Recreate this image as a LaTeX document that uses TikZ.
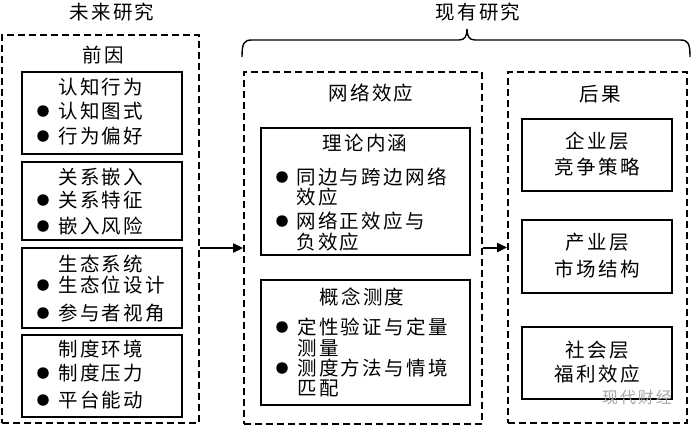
\documentclass[tikz,border=0pt]{standalone}
\usepackage{fontspec}
\newfontfamily\cjk{Noto Sans CJK SC}[LetterSpace=12]
\usetikzlibrary{arrows.meta}
\begin{document}
\begin{tikzpicture}[x=1pt,y=-1pt,
 dbox/.style={draw, line width=1.8pt, dash pattern=on 7pt off 4pt, inner sep=0pt},
 sbox/.style={draw, line width=1.4pt, inner sep=0pt},
 txt/.style={font=\cjk\fontsize{19.5}{21}\selectfont, inner sep=0pt},
 lt/.style={txt, anchor=west},
 bul/.style={circle, fill, inner sep=0pt, minimum size=11.5pt},
 arr/.style={line width=2pt, -{Triangle[length=10pt,width=9pt]}},
 wm/.style={font=\cjk\fontsize{16}{18}\selectfont, text=black!35, inner sep=0pt}]
\useasboundingbox (0,0) rectangle (692,426);

% titles
\node[txt] (tFut) at (112,12) {未来研究};
\node[txt] (tCur) at (478,12) {现有研究};
\draw[line width=1.4pt] (242,57) .. controls (242,43) and (244,40) .. (252,40) -- (459,40)
  .. controls (465,40) and (467,36) .. (467,29) .. controls (467,36) and (469,40) .. (475,40)
  -- (680,40) .. controls (688,40) and (690,43) .. (690,57);

% outer dashed boxes
\node[dbox, minimum width=197pt, minimum height=388pt] (L) at (100.5,229) {};
\node[dbox, minimum width=238pt, minimum height=352pt] (M) at (363,248) {};
\node[dbox, minimum width=179pt, minimum height=351pt] (R) at (597.5,247.5) {};

% left column
\node[txt] (hL) at (103,55) {前因};
\node[sbox, minimum width=160pt, minimum height=82pt] (B1) at (102,113) {};
\node[sbox, minimum width=160pt, minimum height=78pt] (B2) at (102,201) {};
\node[sbox, minimum width=160pt, minimum height=80pt] (B3) at (102,288) {};
\node[sbox, minimum width=160pt, minimum height=82pt] (B4) at (102,376) {};

\node[lt] (b1h) at (58,87) {认知行为};
\node[bul] (b1p1) at (43,111) {}; \node[lt] (b1t1) at (58,111) {认知图式};
\node[bul] (b1p2) at (43,136) {}; \node[lt] (b1t2) at (58,136) {行为偏好};

\node[lt] (b2h) at (58,177) {关系嵌入};
\node[bul] (b2p1) at (43,200) {}; \node[lt] (b2t1) at (58,200) {关系特征};
\node[bul] (b2p2) at (43,226) {}; \node[lt] (b2t2) at (58,226) {嵌入风险};

\node[lt] (b3h) at (58,264) {生态系统};
\node[bul] (b3p1) at (43,285) {}; \node[lt] (b3t1) at (58,285) {生态位设计};
\node[bul] (b3p2) at (43,313) {}; \node[lt] (b3t2) at (58,313) {参与者视角};

\node[lt] (b4h) at (58,349) {制度环境};
\node[bul] (b4p1) at (43,373) {}; \node[lt] (b4t1) at (58,373) {制度压力};
\node[bul] (b4p2) at (43,400) {}; \node[lt] (b4t2) at (58,400) {平台能动};

% middle column
\node[txt] (hM) at (371,93) {网络效应};
\node[sbox, minimum width=209pt, minimum height=127pt] (T1) at (365.5,191.5) {};
\node[sbox, minimum width=209pt, minimum height=125pt] (T2) at (365.5,342.5) {};

\node[txt] (t1h) at (365,143) {理论内涵};
\node[bul] (t1p1) at (282,177) {}; \node[lt] (t1a) at (296,177) {同边与跨边网络};
\node[lt] (t1b) at (296,197) {效应};
\node[bul] (t1p2) at (282,221) {}; \node[lt] (t1c) at (296,221) {网络正效应与};
\node[lt] (t1d) at (296,242) {负效应};

\node[txt] (t2h) at (362,297) {概念测度};
\node[bul] (t2p1) at (282,327) {}; \node[lt] (t2a) at (297,327) {定性验证与定量};
\node[lt] (t2b) at (297,348) {测量};
\node[bul] (t2p2) at (282,368) {}; \node[lt] (t2c) at (297,368) {测度方法与情境};
\node[lt] (t2d) at (297,388) {匹配};

% right column
\node[txt] (hR) at (600,94) {后果};
\node[sbox, minimum width=150pt, minimum height=72pt] (C1) at (597,155) {};
\node[sbox, minimum width=150pt, minimum height=73pt] (C2) at (597,256.5) {};
\node[sbox, minimum width=150pt, minimum height=72pt] (C3) at (597,363) {};
\node[txt] (c1a) at (597,141) {企业层};
\node[txt] (c1b) at (597,167) {竞争策略};
\node[txt] (c2a) at (597,242) {产业层};
\node[txt] (c2b) at (597,269) {市场结构};
\node[txt] (c3a) at (597,350) {社会层};
\node[txt] (c3b) at (597,374) {福利效应};

% watermark
\node[wm] (wmk) at (637,397) {现代财经};

% arrows
\draw[arr] (L.east |- M.west) -- (M.west);
\draw[arr] (M.east |- R.west) -- (R.west);
\end{tikzpicture}
\end{document}
